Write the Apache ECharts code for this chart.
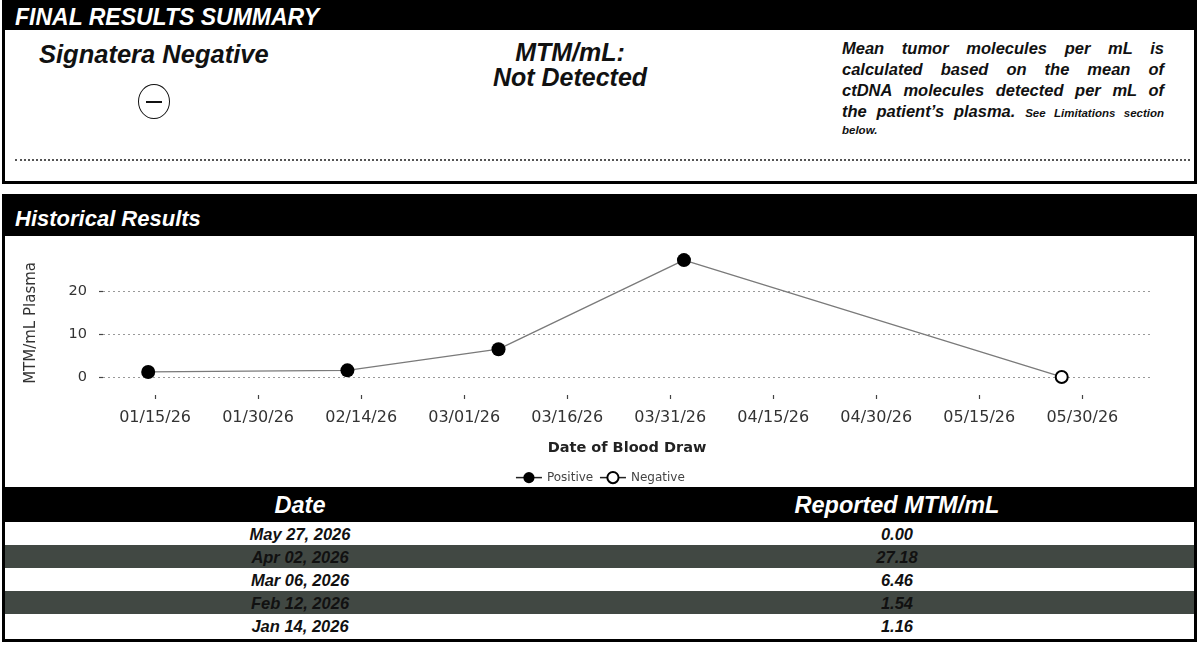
<!DOCTYPE html>
<html>
<head>
<meta charset="utf-8">
<script src="https://cdn.jsdelivr.net/npm/echarts@6/dist/echarts.min.js"></script>
<style>
  html, body { margin: 0; padding: 0; background: #fff; }
  #page { position: relative; width: 1200px; height: 665px; overflow: hidden; background: #fff; }
  .bi { font-family: "Liberation Sans", Arial, sans-serif; font-style: italic; font-weight: bold; }
  .panel { position: absolute; border: 3px solid #000; box-sizing: border-box; background: #fff; }
  .bar { position: absolute; left: 0; right: 0; top: 0; background: #000; color: #fff; }
  #chart { position: absolute; left: 0; top: 0; width: 1200px; height: 665px; z-index: 2; }
  .row { position: absolute; left: 0; right: 0; height: 23px; }
  .cell { position: absolute; top: 0; height: 23px; line-height: 24px; text-align: center; font-size: 16.5px; color: #111; }
  .pl { position: absolute; left: 837px; width: 322px; font-size: 16.5px; line-height: 21px; text-align: justify; text-align-last: justify; color: #111; white-space: nowrap; }
</style>
</head>
<body>
<div id="page">
  <div class="panel" style="left:2px; top:0; width:1195px; height:184px;">
    <div class="bar bi" style="height:27px; line-height:28px; font-size:23px; padding-left:10px;">FINAL RESULTS SUMMARY</div>
    <div class="bi" style="position:absolute; left:34px; top:37px; font-size:25.5px; color:#111;">Signatera Negative</div>
    <div style="position:absolute; left:133px; top:81px; width:30px; height:33px; border:1.5px solid #111; border-radius:50%;"></div>
    <div style="position:absolute; left:141px; top:98px; width:16px; height:1.5px; background:#111;"></div>
    <div class="bi" style="position:absolute; left:440px; width:250px; top:37px; font-size:25px; line-height:25px; text-align:center; color:#111;">MTM/mL:<br>Not Detected</div>
    <div class="bi pl" style="top:35px;">Mean tumor molecules per mL is</div>
    <div class="bi pl" style="top:56px;">calculated based on the mean of</div>
    <div class="bi pl" style="top:77px;">ctDNA molecules detected per mL of</div>
    <div class="bi pl" style="top:98px;">the patient’s plasma. <span style="font-size:11.5px;">See Limitations section</span></div>
    <div class="bi" style="position:absolute; left:837px; top:121px; font-size:11.5px; color:#111;">below.</div>
    <div style="position:absolute; left:10px; right:4px; top:156px; border-top:2px dotted #555;"></div>
  </div>
  <div class="panel" style="left:2px; top:194px; width:1195px; height:448px;">
    <div class="bar bi" style="height:39px; line-height:44px; font-size:22px; padding-left:10px;">Historical Results</div>
    <div id="table" style="position:absolute; left:0; right:0; top:290px; bottom:0;"></div>
  </div>
  <div id="chart"></div>
</div>
<script>
// values (chart + table)
var drawDates = ['2026-01-14', '2026-02-12', '2026-03-06', '2026-04-02', '2026-05-27'];
var drawValues = [1.16, 1.54, 6.46, 27.18, 0.00];
var drawStatus = ['Positive', 'Positive', 'Positive', 'Positive', 'Negative'];
var tableDates = ['May 27, 2026', 'Apr 02, 2026', 'Mar 06, 2026', 'Feb 12, 2026', 'Jan 14, 2026'];
var tableValues = ['0.00', '27.18', '6.46', '1.54', '1.16'];
var tickDates = ['2026-01-15', '2026-01-30', '2026-02-14', '2026-03-01', '2026-03-16',
                 '2026-03-31', '2026-04-15', '2026-04-30', '2026-05-15', '2026-05-30'];
var yTicks = [0, 10, 20];

function ts(s) { return echarts.number.parseDate(s).getTime(); }
function pad(n) { return n < 10 ? '0' + n : '' + n; }
function fmtDate(v) {
    var d = new Date(v);
    return pad(d.getMonth() + 1) + '/' + pad(d.getDate()) + '/' + pad(d.getFullYear() % 100);
}

// table rows
var tableEl = document.getElementById('table');
var head = document.createElement('div');
head.className = 'row bi';
head.style.cssText = 'top:0;height:35px;background:#000;color:#fff;';
head.innerHTML = '<div class="cell" style="left:0;width:590px;height:35px;line-height:37px;font-size:23.5px;color:#fff;">Date</div>' +
                 '<div class="cell" style="left:692px;width:400px;height:35px;line-height:37px;font-size:23.5px;color:#fff;">Reported MTM/mL</div>';
tableEl.appendChild(head);
for (var i = 0; i < tableDates.length; i++) {
    var r = document.createElement('div');
    r.className = 'row bi';
    r.style.top = (35 + i * 23) + 'px';
    r.style.background = (i % 2 == 1) ? '#414843' : '#fff';
    r.innerHTML = '<div class="cell" style="left:0;width:590px;">' + tableDates[i] + '</div>' +
                  '<div class="cell" style="left:692px;width:400px;">' + tableValues[i] + '</div>';
    tableEl.appendChild(r);
}

// chart
var allPts = [], posPts = [], negPts = [];
for (var j = 0; j < drawDates.length; j++) {
    var p = [ts(drawDates[j]), drawValues[j]];
    allPts.push(p);
    if (drawStatus[j] == 'Positive') posPts.push(p); else negPts.push(p);
}
var tickTs = tickDates.map(ts);

var chart = echarts.init(document.getElementById('chart'), null, { renderer: 'canvas' });
chart.setOption({
    backgroundColor: 'transparent',
    animation: false,
    textStyle: { fontFamily: 'DejaVu Sans' },
    grid: { left: 103, right: 49, top: 248, bottom: 270 },
    legend: {
        data: ['Positive', 'Negative'],
        top: 466, left: 'center',
        itemWidth: 26, itemHeight: 14, itemGap: 6,
        textStyle: { fontSize: 12, color: '#444', fontFamily: 'DejaVu Sans' },
        lineStyle: { color: '#222', width: 1.5, opacity: 1 }
    },
    xAxis: {
        type: 'value',
        min: ts('2026-01-07 10:00'), max: ts('2026-06-09'),
        name: 'Date of Blood Draw', nameLocation: 'middle', nameGap: 46,
        nameTextStyle: { fontSize: 14.5, fontWeight: 'bold', color: '#222' },
        axisLine: { show: false, onZero: false },
        axisTick: { show: true, length: 4, customValues: tickTs, lineStyle: { color: '#444', width: 1.2 } },
        axisLabel: { customValues: tickTs, margin: 15, fontSize: 16, color: '#333', formatter: fmtDate },
        splitLine: { show: false }
    },
    yAxis: {
        type: 'value', min: -4.2, max: 30,
        axisLine: { show: false, onZero: false },
        axisTick: { show: true, length: 4, customValues: yTicks, lineStyle: { color: '#444', width: 1.2 } },
        axisLabel: { customValues: yTicks, margin: 16, fontSize: 14.5, color: '#333' },
        splitLine: { show: true, lineStyle: { type: [2, 3], color: '#999', width: 1 } }
    },
    graphic: [{
        type: 'text', left: 24, top: 262, rotation: Math.PI / 2,
        style: { text: 'MTM/mL Plasma', font: '15px "DejaVu Sans"', fill: '#333' }
    }],
    series: [{
        name: 'trend', type: 'line', data: allPts, showSymbol: false, silent: true,
        lineStyle: { color: '#7a7a7a', width: 1.3 }, z: 1
    }, {
        name: 'Positive', type: 'line', data: posPts, symbol: 'circle', symbolSize: 14,
        itemStyle: { color: '#000' }, lineStyle: { opacity: 0 }, z: 3
    }, {
        name: 'Negative', type: 'line', data: negPts, symbol: 'emptyCircle', symbolSize: 12,
        itemStyle: { color: '#000', borderWidth: 1.5 }, lineStyle: { opacity: 0 }, z: 3
    }]
});
</script>
</body>
</html>
